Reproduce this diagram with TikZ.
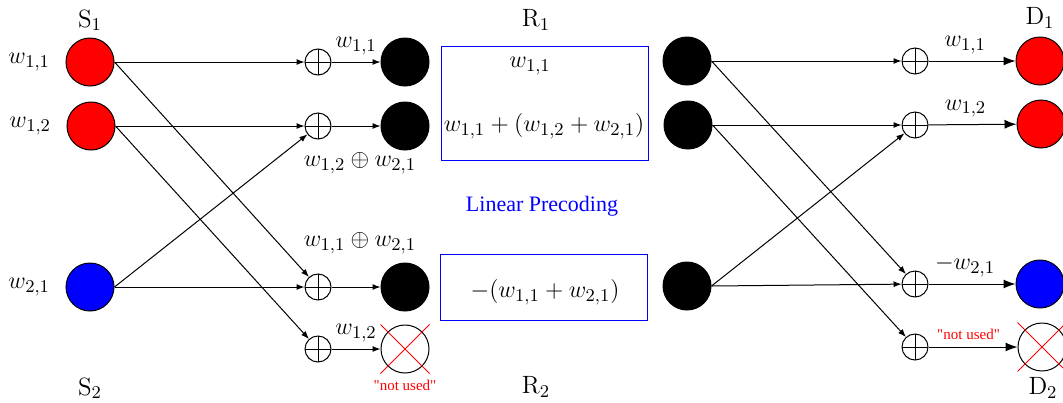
\documentclass[tikz,border=0pt]{standalone}
\usepackage{fontspec}
\usetikzlibrary{positioning, arrows.meta}
\newfontfamily\tnr{Liberation Serif}

\begin{document}
\begin{tikzpicture}[
  x=0.5pt, y=-0.5pt,
  font=\fontsize{12.5}{14}\selectfont,
  term/.style={circle, draw, line width=0.5pt, minimum size=24pt, inner sep=0pt},
  relay/.style={term, fill=black},
  adder/.style={circle, draw, line width=0.5pt, minimum size=13pt, inner sep=0pt,
    path picture={\draw[line width=0.5pt] (path picture bounding box.north) -- (path picture bounding box.south)
      (path picture bounding box.west) -- (path picture bounding box.east);}},
  prec/.style={rectangle, draw=blue, line width=0.5pt, minimum width=103.5pt},
  arr/.style={-{Latex[length=4pt, width=3pt]}, line width=0.5pt},
  bigarr/.style={-{Latex[length=6pt, width=4.5pt]}, line width=0.5pt},
  cross/.style={red, line width=0.5pt},
  note/.style={red, font=\tnr\fontsize{7.5}{9}\selectfont}
]
\useasboundingbox (0,0) rectangle (1063,402);
% ----- sources -----
\node[term, fill=red] (s11) at (90,62) {};
\node[term, fill=red] (s12) at (91,126) {};
\node[term, fill=blue] (s21) at (90,287) {};
\node[left=1.5mm of s11] (ls11) {$w_{1,1}$};
\node[left=1.5mm of s12] (ls12) {$w_{1,2}$};
\node[left=1.5mm of s21] (ls21) {$w_{2,1}$};
\node (S1) at (90,20) {$\mathrm{S}_1$};
\node (S2) at (90,388) {$\mathrm{S}_2$};
% ----- first hop adders and relay inputs -----
\node[adder] (lp1) at (318,62) {};
\node[adder] (lp2) at (318,126) {};
\node[adder] (lp3) at (318,287) {};
\node[adder] (lp4) at (318,349) {};
\node[relay] (lr1) at (405,62) {};
\node[relay] (lr2) at (405,126) {};
\node[relay] (lr3) at (405,287) {};
\node[term] (lx4) at (405,349) {};
\draw[cross] (lx4.west |- lx4.north) -- (lx4.east |- lx4.south)
  (lx4.west |- lx4.south) -- (lx4.east |- lx4.north);
\node[note, below=0pt of lx4] (nu1) {"not used"};
\draw[arr] (s11.east) -- (lp1);
\draw[arr] (s11.east) -- (lp3);
\draw[arr] (s12.east) -- (lp2);
\draw[arr] (s12.east) -- (lp4);
\draw[arr] (s21.east) -- (lp2);
\draw[arr] (s21.east) -- (lp3);
\draw[arr] (lp1) -- (lr1) node[midway, above] {$w_{1,1}$};
\draw[arr] (lp2) -- (lr2);
\draw[arr] (lp3) -- (lr3);
\draw[arr] (lp4) -- (lx4) node[midway, above] {$w_{1,2}$};
\node (x12) at (360,163) {$w_{1,2}\oplus w_{2,1}$};
\node (x11) at (360,243) {$w_{1,1}\oplus w_{2,1}$};
% ----- linear precoding at the relays -----
\node[prec, minimum height=57pt] (box1) at (544.5,103) {};
\node[prec, minimum height=33pt] (box2) at (543.5,287) {};
\node (b11) at (530,66) {$w_{1,1}$};
\node (b12) at (544,126) {$w_{1,1}+(w_{1,2}+w_{2,1})$};
\node (b21) at (545,292) {$-(w_{1,1}+w_{2,1})$};
\node[blue, font=\tnr\fontsize{11}{13}\selectfont] (lin) at (542,206) {Linear Precoding};
\node (R1) at (536,20) {$\mathrm{R}_1$};
\node (R2) at (536,387) {$\mathrm{R}_2$};
% ----- second hop -----
\node[relay] (rr1) at (687,61) {};
\node[relay] (rr2) at (688,125) {};
\node[relay] (rr3) at (687,286) {};
\node[adder] (rp1) at (915,61) {};
\node[adder] (rp2) at (915,125) {};
\node[adder] (rp3) at (915,284) {};
\node[adder] (rp4) at (915,347) {};
\node[term, fill=red] (d11) at (1040,61) {};
\node[term, fill=red] (d12) at (1041,124) {};
\node[term, fill=blue] (d21) at (1040,284) {};
\node[term] (dx4) at (1042,347) {};
\draw[cross] (dx4.west |- dx4.north) -- (dx4.east |- dx4.south)
  (dx4.west |- dx4.south) -- (dx4.east |- dx4.north);
\node (D1) at (1040,18) {$\mathrm{D}_1$};
\node (D2) at (1043,388) {$\mathrm{D}_2$};
\draw[arr] (rr1.east) -- (rp1);
\draw[arr] (rr1.east) -- (rp3);
\draw[arr] (rr2.east) -- (rp2);
\draw[arr] (rr2.east) -- (rp4);
\draw[arr] (rr3.east) -- (rp2);
\draw[arr] (rr3.east) -- (rp3);
\draw[bigarr] (rp1) -- (d11) node[pos=0.42, above] {$w_{1,1}$};
\draw[bigarr] (rp2) -- (d12) node[pos=0.42, above] {$w_{1,2}$};
\draw[bigarr] (rp3) -- (d21) node[pos=0.42, above] {$-w_{2,1}$};
\draw[bigarr] (rp4) -- (dx4) node[pos=0.45, above, note] {"not used"};
\end{tikzpicture}
\end{document}
